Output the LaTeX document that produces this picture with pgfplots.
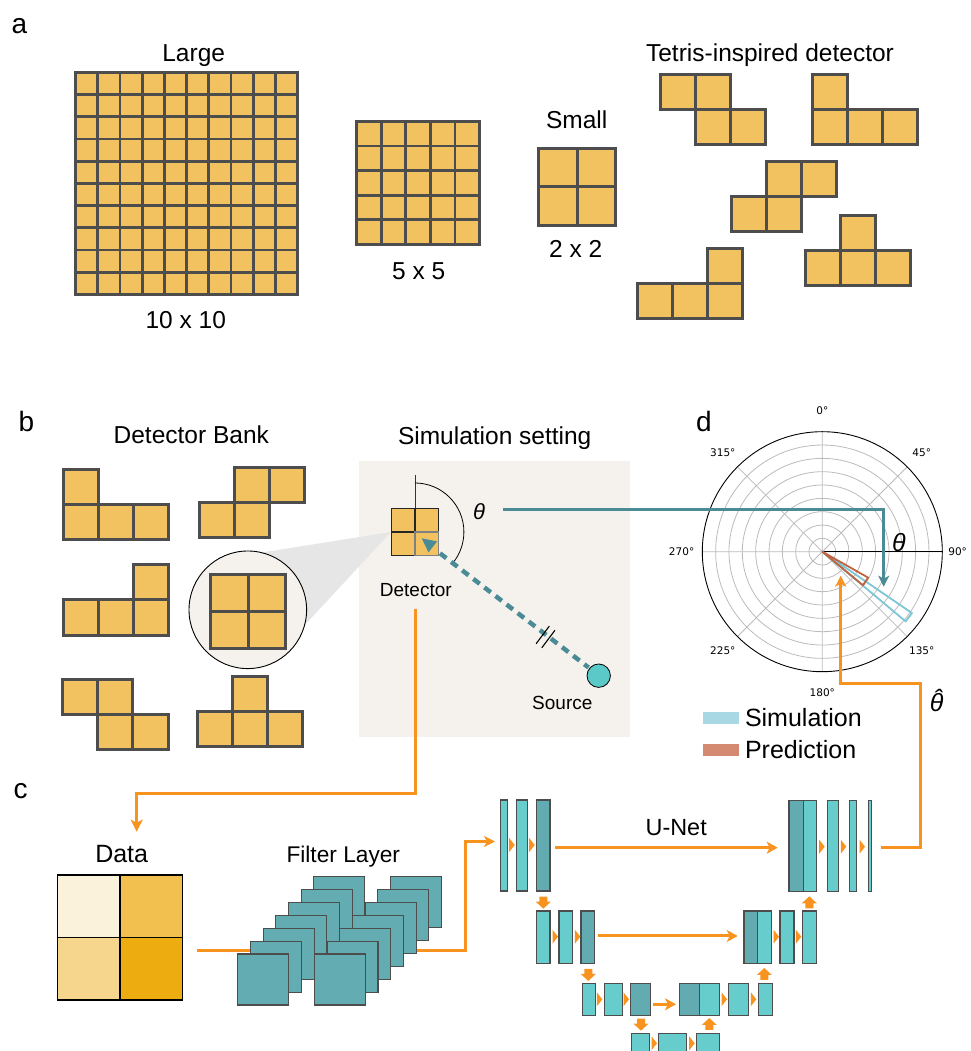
\documentclass[border=0pt]{standalone}
\usepackage{pgfplots}
\pgfplotsset{compat=1.18}
\usepgfplotslibrary{polar}
\usetikzlibrary{arrows.meta}
\usepackage{fontspec}
\setmainfont{Liberation Sans}
\newfontfamily\dejavu{DejaVu Sans}
\newcommand\fs[1]{\fontsize{#1}{#1}\selectfont}
\definecolor{cellc}{HTML}{F2C260}
\definecolor{gridc}{HTML}{4D4D4D}
\definecolor{bgc}{HTML}{F5F2ED}
\definecolor{conec}{HTML}{E6E6E6}
\definecolor{orng}{HTML}{F7931E}
\definecolor{tline}{HTML}{4A8B96}
\definecolor{tlight}{HTML}{66CDCC}
\definecolor{tdark}{HTML}{62ABB0}
\definecolor{filt}{HTML}{63ADB2}
\definecolor{srcc}{HTML}{5CC9C9}
\definecolor{simline}{HTML}{7CC6D6}
\definecolor{simfill}{HTML}{A8D8E3}
\definecolor{predline}{HTML}{BF6440}
\definecolor{predfill}{HTML}{D48A70}
\definecolor{pgrid}{HTML}{BBBBBB}
\definecolor{d1}{HTML}{FBF2DC}
\definecolor{d2}{HTML}{F2C04F}
\definecolor{d3}{HTML}{F6D58C}
\definecolor{d4}{HTML}{EDAC10}
\newcommand\cellsq[4][3pt]{\filldraw[fill=cellc,draw=gridc,line width=#1] ({#2},{#3}) rectangle ++({#4},{#4});}
\newcommand\piece[4]{\foreach \i/\j in {#4}{\cellsq{#1+\i*#3}{#2+\j*#3}{#3}}}
\newcommand\ub[5]{\filldraw[fill=#5,draw=gridc,line width=1.2pt] (#1,#3) rectangle (#2,#4);}
\newcommand\tri[2]{\fill[orng] ({#1-2.5},{#2-7}) -- ({#1+3},{#2}) -- ({#1-2.5},{#2+7}) -- cycle;}
\newcommand\darr[2]{\fill[orng] ({#1-4},{#2}) -- ({#1+4},{#2}) -- ({#1+4},{#2+5}) -- ({#1+7.5},{#2+5}) -- ({#1},{#2+12}) -- ({#1-7.5},{#2+5}) -- ({#1-4},{#2+5}) -- cycle;}
\newcommand\uarr[2]{\fill[orng] ({#1-4},{#2}) -- ({#1+4},{#2}) -- ({#1+4},{#2-5}) -- ({#1+7.5},{#2-5}) -- ({#1},{#2-12}) -- ({#1-7.5},{#2-5}) -- ({#1-4},{#2-5}) -- cycle;}
\begin{document}
\begin{tikzpicture}
\useasboundingbox (0pt,0pt) rectangle (970pt,1051pt);
\begin{scope}[x=1pt,y=-1pt,shift={(0pt,1051pt)}]
% ---------------- panel a
\node[anchor=base west,inner sep=0pt,font=\fs{28}] at (11.5,33.3) {a};
\node[anchor=base,font=\fs{24.5}] at (193.7,61.7) {Large};
\foreach \i in {0,...,9}{\foreach \j in {0,...,9}{\cellsq[2.8pt]{75.5+\i*22.2}{72.5+\j*22.2}{22.2}}}
\node[anchor=base,font=\fs{24.5}] at (185.8,328.3) {10 x 10};
\foreach \i in {0,...,4}{\foreach \j in {0,...,4}{\cellsq[2.8pt]{356.5+\i*24.6}{121.5+\j*24.6}{24.6}}}
\node[anchor=base,font=\fs{24.5}] at (418.8,279.3) {5 x 5};
\foreach \i in {0,1}{\foreach \j in {0,1}{\cellsq{538.5+\i*38.5}{148.5+\j*38.5}{38.5}}}
\node[anchor=base,font=\fs{24.5}] at (576.7,128.3) {Small};
\node[anchor=base,font=\fs{24.5}] at (575.7,257.7) {2 x 2};
\node[anchor=base,font=\fs{24.5}] at (770,61.7) {Tetris-inspired detector};
\piece{660.8}{74.2}{35}{0/0,1/0,1/1,2/1}
\piece{812.2}{74.2}{35}{0/0,0/1,1/1,2/1}
\piece{731.2}{161.2}{35}{1/0,2/0,0/1,1/1}
\piece{637.2}{248.2}{35}{2/0,0/1,1/1,2/1}
\piece{805.2}{215.2}{35}{1/0,0/1,1/1,2/1}
% ---------------- panel b
\node[anchor=base west,inner sep=0pt,font=\fs{28}] at (18.3,431.7) {b};
\node[anchor=base,font=\fs{24.5}] at (191.3,444) {Detector Bank};
\piece{63.2}{469.2}{35.2}{0/0,0/1,1/1,2/1}
\piece{199.2}{467.5}{35.2}{1/0,2/0,0/1,1/1}
\piece{63.2}{564.8}{35.2}{2/0,0/1,1/1,2/1}
\piece{62.5}{679.2}{35.2}{0/0,1/0,1/1,2/1}
\piece{197.2}{676.5}{35.2}{1/0,0/1,1/1,2/1}
\fill[bgc] (359,461) rectangle (630,736.7);
\node[anchor=base,font=\fs{24.5}] at (494.7,444.3) {Simulation setting};
\fill[conec] (391,532) -- (250,554.4) -- (247.8,609.8) -- (290,641) -- cycle;
\filldraw[fill=bgc,draw=black,line width=0.9pt] (247.8,609.8) circle[radius=58.8];
\foreach \i in {0,1}{\foreach \j in {0,1}{\cellsq{210.8+\i*37.2}{574.2+\j*37.2}{37.2}}}
\foreach \i in {0,1}{\foreach \j in {0,1}{\filldraw[fill=cellc,draw=black!85,line width=1.5pt] ({391.5+\i*23.4},{508.5+\j*23.4}) rectangle ++(23.4,23.4);}}
\draw[draw=black!50,line width=1.5pt] (414.9,531.9) rectangle ++(23.4,23.4);
\draw[black!80,line width=0.8pt] (414.9,475) -- (414.9,508.5);
\draw[black,line width=0.8pt] (414.9,483) arc[start angle=-90,end angle=37,radius=49];
\node[anchor=base,font=\itshape\fs{22}] at (479.2,520) {θ};
\draw[tline,line width=4.5pt,dash pattern=on 8pt off 6pt] (440,553.3) -- (588.5,667.5);
\fill[tline] (421.7,538.3) -- (437.1,541.4) -- (428.5,552.4) -- cycle;
\draw[black,line width=1.1pt] (536.1,643.7) -- (549.3,626.1);
\draw[black,line width=1.1pt] (541.7,647.9) -- (554.9,630.3);
\filldraw[fill=srcc,draw=black,line width=0.8pt] (598.7,675.7) circle[radius=11.7];
\node[anchor=base,font=\fs{19}] at (415.8,596.7) {Detector};
\node[anchor=base,font=\fs{19}] at (562.3,710) {Source};
\draw[orng,line width=3pt,-{Stealth[length=12pt,width=12pt,inset=3pt]}] (415,609.3) -- (415,793.3) -- (136.7,793.3) -- (136.7,831.7);
% ---------------- panel c
\node[anchor=base west,inner sep=0pt,font=\fs{28}] at (13.3,798.3) {c};
\node[anchor=base,font=\fs{25}] at (121.7,862.3) {Data};
\filldraw[fill=d1,draw=black,line width=1.3pt] (57.5,875) rectangle ++(62.5,62.5);
\filldraw[fill=d2,draw=black,line width=1.3pt] (120,875) rectangle ++(62.5,62.5);
\filldraw[fill=d3,draw=black,line width=1.3pt] (57.5,937.5) rectangle ++(62.5,62.5);
\filldraw[fill=d4,draw=black,line width=1.3pt] (120,937.5) rectangle ++(62.5,62.5);
\draw[orng,line width=3pt] (196.7,950.7) -- (300,950.7);
\draw[orng,line width=3pt,-{Stealth[length=11pt,width=11pt,inset=3pt]}] (395,950.7) -- (465.7,950.7) -- (465.7,841.5) -- (495,841.5);
\node[anchor=base,font=\fs{22.7}] at (343.3,862.3) {Filter Layer};
\foreach \k in {6,5,...,0}{\filldraw[fill=filt,draw=gridc,line width=1.1pt] ({237.7+12.7*\k},{954-12.9*\k}) rectangle ++(51,51);}
\foreach \k in {6,5,...,0}{\filldraw[fill=filt,draw=gridc,line width=1.1pt] ({314.3+12.7*\k},{954-12.9*\k}) rectangle ++(51,51);}
% U-Net
\node[anchor=base,font=\fs{23.4}] at (676.2,836) {U-Net};
\ub{500.7}{507.7}{800}{891}{tlight}\ub{516.7}{527.3}{800}{891}{tlight}\ub{536.7}{550}{800}{891}{tdark}
\ub{789}{803.3}{800.5}{891.5}{tdark}\ub{803.3}{816.7}{800.5}{891.5}{tlight}\ub{827.3}{838.3}{800.5}{891.5}{tlight}\ub{849.3}{856.7}{800.5}{891.5}{tlight}\ub{868.3}{871.7}{800.5}{891.5}{tlight}
\ub{536.7}{550}{911}{963.7}{tlight}\ub{559}{572.3}{911}{963.7}{tlight}\ub{581}{594.3}{911}{963.7}{tdark}
\ub{744}{757.7}{911}{963.7}{tdark}\ub{757.7}{771.7}{911}{963.7}{tlight}\ub{780}{794}{911}{963.7}{tlight}\ub{802.7}{816.7}{911}{963.7}{tlight}
\ub{582.3}{595.7}{983.3}{1015.3}{tlight}\ub{604.3}{622.3}{983.3}{1015.3}{tlight}\ub{630.7}{650.7}{983.3}{1015.3}{tdark}
\ub{679.3}{699.3}{983.3}{1015.3}{tdark}\ub{699.3}{719.3}{983.3}{1015.3}{tlight}\ub{728.3}{748.7}{983.3}{1015.3}{tlight}\ub{758.3}{772.3}{983.3}{1015.3}{tlight}
\ub{631.3}{649.3}{1033.3}{1054}{tlight}\ub{658.7}{686.7}{1033.3}{1054}{tlight}\ub{696.7}{719.3}{1033.3}{1054}{tlight}
\tri{511.7}{845}\tri{531.7}{845}\tri{821.7}{846.7}\tri{843.3}{846.7}\tri{862}{846.7}
\tri{555}{936.7}\tri{577.3}{936.7}\tri{776}{936.7}\tri{798.3}{936.7}
\tri{599.3}{999.3}\tri{626}{999.3}\tri{724}{999.3}\tri{753.3}{999.3}
\tri{654}{1043.3}\tri{691.7}{1043.3}
\draw[orng,line width=3pt,-{Stealth[length=11pt,width=12pt,inset=3pt]}] (555,847.7) -- (777.7,847.7);
\draw[orng,line width=3pt,-{Stealth[length=11pt,width=12pt,inset=3pt]}] (597.7,936) -- (737.7,936);
\draw[orng,line width=3pt,-{Stealth[length=11pt,width=12pt,inset=3pt]}] (653.3,1004.3) -- (676,1004.3);
\darr{543.3}{896.7}\darr{588.3}{969}\darr{641}{1018.7}
\uarr{809.3}{908.3}\uarr{764.3}{980}\uarr{709.3}{1030}
\end{scope}
% ---------------- panel d: polar chart
\begin{polaraxis}[
  at={(822.3pt,499.3pt)}, anchor=center,
  scale only axis, width=240pt, height=240pt,
  xmin=0, xmax=360, ymin=0, ymax=9,
  xtick={0,45,...,315}, ytick={1,...,8},
  xticklabels={}, yticklabels={},
  major tick length=0pt,
  grid=major, major grid style={draw=pgrid,line width=0.8pt},
  axis line style={black,line width=0.9pt},
  clip=false,
  legend cell align=left,
  legend style={at={(0,-0.147)},anchor=north west,draw=none,fill=none,font=\fs{25},
    inner sep=0pt,row sep=9pt,nodes={inner sep=1.5pt},
    /tikz/every odd column/.append style={column sep=5pt}},
  legend image code/.code={\fill[#1,draw=none] (0pt,-6pt) rectangle (36pt,6pt);},
]
\addplot[draw=simline,line width=1.8pt,line join=round,forget plot] coordinates {(323,0) (325.6,8.15) (320.1,8.15) (323,0)};
\addplot[draw=predline,line width=1.8pt,line join=round,forget plot] coordinates {(325,0) (330.5,3.95) (320.5,3.95) (325,0)};
\addlegendimage{fill=simfill}
\addlegendentry{Simulation}
\addlegendimage{fill=predfill}
\addlegendentry{Prediction}
\node[font=\dejavu\fs{10.5}] at (axis cs:90,10.55) {0°};
\node[font=\dejavu\fs{10.5}] at (axis cs:45,10.55) {45°};
\node[font=\dejavu\fs{10.5}] at (axis cs:0,10.15) {90°};
\node[font=\dejavu\fs{10.5}] at (axis cs:315,10.55) {135°};
\node[font=\dejavu\fs{10.5}] at (axis cs:270,10.55) {180°};
\node[font=\dejavu\fs{10.5}] at (axis cs:225,10.55) {225°};
\node[font=\dejavu\fs{10.5}] at (axis cs:180,10.55) {270°};
\node[font=\dejavu\fs{10.5}] at (axis cs:135,10.55) {315°};
\end{polaraxis}
\begin{scope}[x=1pt,y=-1pt,shift={(0pt,1051pt)}]
\node[anchor=base west,inner sep=0pt,font=\fs{28}] at (696,431.7) {d};
\draw[tline,line width=3pt,-{Stealth[length=11pt,width=11pt,inset=3pt]}] (503.3,510) -- (883.7,510) -- (883.7,586.7);
\node[anchor=base,font=\itshape\fs{25}] at (899,551.7) {θ};
\draw[orng,line width=3pt,-{Stealth[length=11pt,width=11pt,inset=3pt]}] (881,847.7) -- (920.7,847.7) -- (920.7,683.3) -- (840.7,683.3) -- (840.7,575.7);
\node[anchor=base,font=\itshape\fs{25}] at (936.7,711.7) {\ooalign{θ\cr\hidewidth\kern0.1em\raisebox{0.17em}{ˆ}\hidewidth\cr}};
\end{scope}
\end{tikzpicture}
\end{document}
